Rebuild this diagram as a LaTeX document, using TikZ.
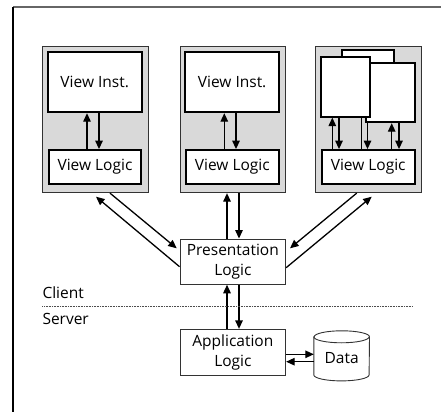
\documentclass[tikz,border=0pt]{standalone}
\usepackage{fontspec}
\setmainfont{Open Sans}
\usetikzlibrary{arrows.meta,calc}
\begin{document}
\begin{tikzpicture}[x=1pt,y=-1pt,
  font=\fontsize{15.5}{20}\selectfont,
  panel/.style={draw=black!80,fill=black!15,line width=0.9pt,minimum height=146.4pt,inner sep=0pt},
  inbox/.style={draw=black,fill=white,line width=1.8pt,inner sep=0pt},
  plain/.style={draw=black!80,fill=white,line width=0.9pt,inner sep=0pt,align=center},
  arr/.style={line width=1.3pt,-{Triangle[length=8.5pt,width=7.5pt]}},
  ln/.style={line width=1.3pt}]
\useasboundingbox (0,0) rectangle (441,414);
% frame
\draw[black!60,line width=1.3pt] (13,7) -- (441,7);
\draw[black,line width=1.3pt] (13,7) -- (13,412);
% panels
\node[panel,minimum width=106pt] (P1) at (95.3,119.5) {};
\node[panel,minimum width=105.7pt] (P2) at (232.85,119.5) {};
\node[panel,minimum width=106pt] (P3) at (368.7,119.5) {};
% panel 1
\node[inbox,minimum width=94pt,minimum height=60.6pt] (VI1) at (94.7,82) {View Inst.};
\node[inbox,minimum width=92.6pt,minimum height=33.7pt] (VL1) at (95,166.85) {View Logic};
% panel 2
\node[inbox,minimum width=94.3pt,minimum height=60.6pt] (VI2) at (232.15,82) {View Inst.};
\node[inbox,minimum width=92.7pt,minimum height=33.7pt] (VL2) at (232.35,166.85) {View Logic};
% panel 3
\node[inbox,minimum width=51.4pt,minimum height=59.4pt] (W0) at (368,80) {};
\node[inbox,minimum width=49pt,minimum height=59pt] (W2) at (390.2,92.8) {};
\node[inbox,minimum width=49.3pt,minimum height=59.7pt] (W1) at (345.65,86.85) {};
\node[inbox,minimum width=93pt,minimum height=33.7pt] (VL3) at (368.2,166.85) {View Logic};
% inner arrows
\draw[arr] (VL1.north -| 87,0) -- (VI1.south -| 87,0);
\draw[arr] (VI1.south -| 99,0) -- (VL1.north -| 99,0);
\draw[arr] (VL2.north -| 224.3,0) -- (VI2.south -| 224.3,0);
\draw[arr] (VI2.south -| 236,0) -- (VL2.north -| 236,0);
\draw[arr] (VL3.north -| 332.3,0) -- (W1.south -| 332.3,0);
\draw[arr] (W1.south -| 339,0) -- (VL3.north -| 339,0);
\draw[ln] (VL3.north -| 361.7,0) -- (W1.south -| 361.7,0);
\draw[arr] (W2.south -| 367.5,0) -- (VL3.north -| 367.5,0);
\draw[arr] (VL3.north -| 391.7,0) -- (W2.south -| 391.7,0);
\draw[arr] (W2.south -| 399,0) -- (VL3.north -| 399,0);
% presentation & application
\node[plain,minimum width=105.7pt,minimum height=45.3pt] (PL) at (232.85,261.65) {Presentation\\Logic};
\node[plain,minimum width=105.7pt,minimum height=45.7pt] (AL) at (232.85,352.15) {Application\\Logic};
% data cylinder
\node[minimum width=55.3pt,minimum height=49.7pt,inner sep=0pt] (D) at (341.65,355.85) {};
\draw[black!80,fill=white,line width=0.9pt] (D.north west) ++(0,6) coordinate (dtl)
  (dtl) -- ($(D.south west)+(0,-6)$) arc[start angle=180,end angle=360,x radius=27.65pt,y radius=6pt]
  -- ($(D.north east)+(0,6)$) arc[start angle=0,end angle=180,x radius=27.65pt,y radius=6pt] -- cycle;
\draw[black!80,line width=0.9pt] (dtl) arc[start angle=180,end angle=360,x radius=27.65pt,y radius=6pt];
\node at (341.7,358.3) (Dt) {Data};
% panel <-> PL
\draw[arr] (P1.south -| 110,0) -- (176.7,248.3);
\draw[arr] (PL.west |- 0,266.7) -- (96,196.7);
\draw[arr] (P3.south -| 356.7,0) -- (290,248.3);
\draw[arr] (PL.east |- 0,267.7) -- (371.7,196.7);
\draw[arr] (PL.north -| 227,0) -- (P2.south -| 227,0);
\draw[arr] (P2.south -| 239,0) -- (PL.north -| 239,0);
% PL <-> AL
\draw[arr] (AL.north -| 227,0) -- (PL.south -| 227,0);
\draw[arr] (PL.south -| 239,0) -- (AL.north -| 239,0);
% AL <-> Data
\draw[arr] (AL.east |- 0,354.3) -- (D.west |- 0,354.3);
\draw[arr] (D.west |- 0,361.7) -- (AL.east |- 0,361.7);
% client/server
\node[anchor=west,inner sep=0pt] (cl) at (42.3,292.7) {Client};
\node[anchor=west,inner sep=0pt] (sv) at (42.3,319.3) {Server};
\draw[black!70,line width=1pt,dash pattern=on 1pt off 0.6pt] (42.3,306) -- (413.3,306);
\end{tikzpicture}
\end{document}
